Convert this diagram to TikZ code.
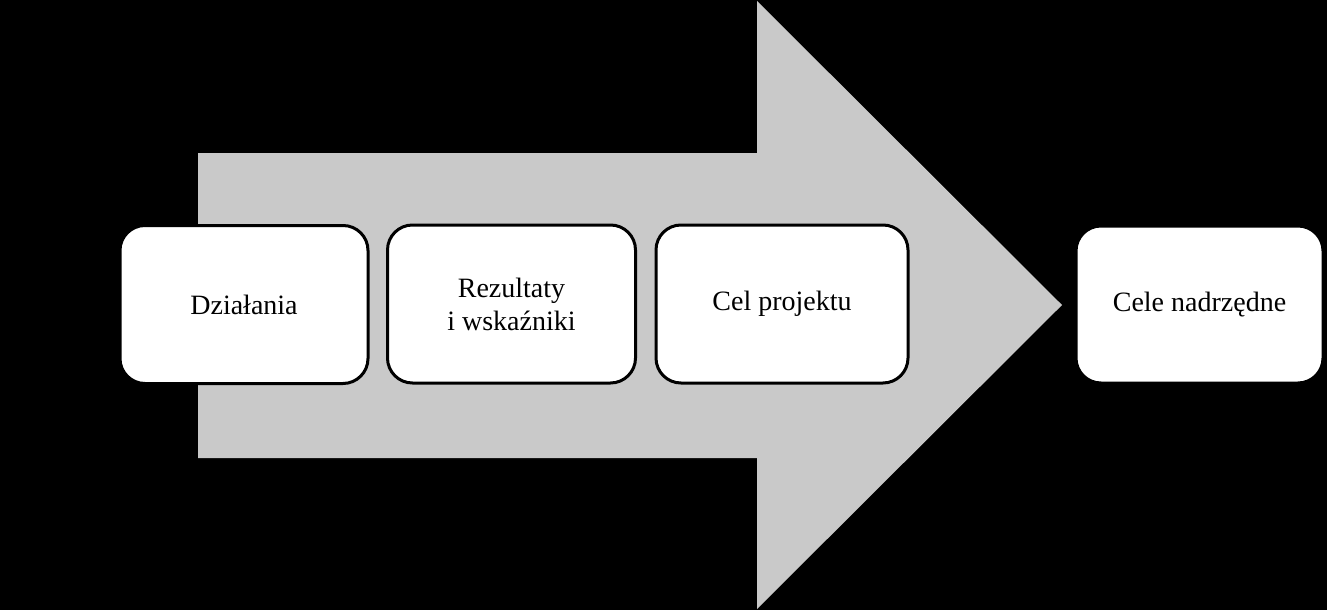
\documentclass[tikz,border=0pt]{standalone}
\usepackage{fontspec}
\setmainfont{Liberation Serif}
\begin{document}
\begin{tikzpicture}[x=1pt,y=-1pt,
  stepbox/.style={draw=black, line width=3pt, fill=white, rounded corners=25pt,
    minimum width=#1, minimum height=158pt, align=center, inner sep=0pt,
    font=\fontsize{28}{33}\selectfont},
  stepbox/.default=248pt]
\fill[black] (0,0) rectangle (1327,610);
\useasboundingbox (0,0) rectangle (1327,610);
\fill[gray!42] (198,153) -- (757,153) -- (757,1) -- (1062,305) -- (757,609) -- (757,458) -- (198,458) -- cycle;
\node[stepbox] (a) at (244,304.5) {Działania};
\node[stepbox] (b) at (511.5,304) {Rezultaty\\i wskaźniki};
\node[stepbox=252pt] (c) at (782,304) {Cel projektu};
\node[stepbox=247pt, minimum height=157pt] (d) at (1199.5,304.5) {Cele nadrzędne};
\end{tikzpicture}
\end{document}
